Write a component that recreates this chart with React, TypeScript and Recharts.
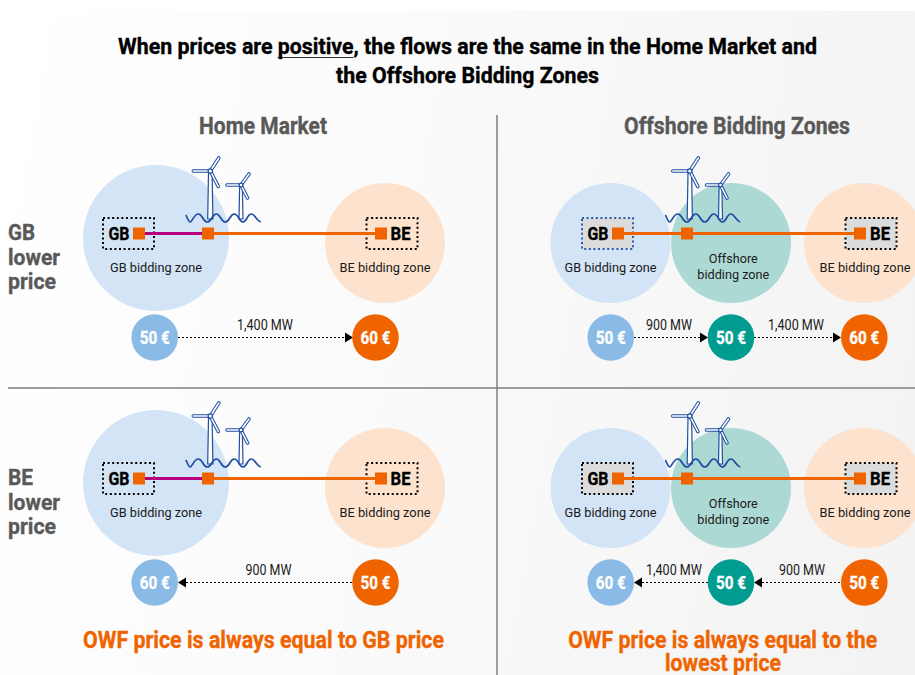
import { ScatterChart, Scatter, XAxis, YAxis, ReferenceLine } from 'recharts';

const rowNames = [['GB', 'lower', 'price'], ['BE', 'lower', 'price']];
const panelTitles = ['Home Market', 'Offshore Bidding Zones'];
const homePrices = [[50, 60], [60, 50]];
const offshorePrices = [[50, 50, 60], [60, 50, 50]];
const homeFlows = [1400, 900];
const offshoreFlows = [[900, 1400], [1400, 900]];
const homeZones = ['GB bidding zone', 'BE bidding zone'];
const offshoreZones = ['GB bidding zone', 'BE bidding zone'];
const offshoreZoneLines = ['Offshore', 'bidding zone'];
const titleLines = ['When prices are positive, the flows are the same in the Home Market and', 'the Offshore Bidding Zones'];
const homeNote = 'OWF price is always equal to GB price';
const offshoreNote = ['OWF price is always equal to the', 'lowest price'];

const ROW_DY = [0, 245];
const FONT = 'Roboto, sans-serif';
const ORANGE = '#f06400';
const MAGENTA = '#b8007f';
const NAVY = '#1f4ea1';
const BLUE_ZONE = '#d3e4f6';
const PEACH_ZONE = '#fde3ce';
const TEAL_ZONE = '#add9d5';
const BLUE_PRICE = '#8abbe6';
const TEAL_PRICE = '#009c90';
const GREY_TEXT = '#595959';

type Mark = Record<string, any>;

const txt = (x: number, y: number, text: string, size: number, width: number, weight = 400, fill = '#1a1a1a', anchor = 'middle'): Mark => ({ x, y, text, size, width, weight, fill, anchor });

function Dot(p: any) {
  return <circle cx={p.cx} cy={p.cy} r={p.payload.r} fill={p.payload.fill} />;
}

function Label(p: any) {
  const d = p.payload;
  return (
    <text x={p.cx} y={p.cy} fontFamily={FONT} fontSize={d.size} fontWeight={d.weight} fill={d.fill} textAnchor={d.anchor}
      stroke={d.weight === 700 ? d.fill : 'none'} strokeWidth={0.35}
      dominantBaseline="central" textLength={d.width} lengthAdjust="spacingAndGlyphs">
      {d.text}
    </text>
  );
}

function Box(p: any) {
  const d = p.payload;
  return (
    <rect x={p.cx - 25.5} y={p.cy - 15.5} width={51} height={31} fill={d.fill} stroke={d.stroke}
      strokeWidth={2} strokeDasharray="2 2.6" />
  );
}

function Square(p: any) {
  return <rect x={p.cx - 6} y={p.cy - 6} width={12} height={12} fill={ORANGE} />;
}

function Arrow(p: any) {
  const dir = p.payload.dir;
  return <path d={`M${p.cx} ${p.cy - 5}L${p.cx + dir * 8} ${p.cy}L${p.cx} ${p.cy + 5}Z`} fill="#000" />;
}

function Price(p: any) {
  const d = p.payload;
  return (
    <g>
      <circle cx={p.cx} cy={p.cy} r={23.3} fill={d.fill} />
      <text x={p.cx} y={p.cy} fontFamily={FONT} fontSize={18} fontWeight={700} fill="#fff" textAnchor="middle"
        stroke="#fff" strokeWidth={0.3}
        dominantBaseline="central" textLength={30} lengthAdjust="spacingAndGlyphs">
        {`${d.value} €`}
      </text>
    </g>
  );
}

function Blade({ x, y, tx, ty }: { x: number; y: number; tx: number; ty: number }) {
  return (
    <g strokeLinecap="round" fill="none">
      <line x1={x} y1={y} x2={tx} y2={ty} stroke={NAVY} strokeWidth={3.6} />
      <line x1={x} y1={y} x2={tx} y2={ty} stroke="#fff" strokeWidth={1.6} />
    </g>
  );
}

// hub is at cx/cy of the big turbine, the second one and the waves hang off it
function Turbines(p: any) {
  const x = p.cx;
  const y = p.cy;
  const x2 = x + 30.7;
  const y2 = y + 14;
  return (
    <g>
      <path d={`M${x - 1.8} ${y + 2}L${x - 2.6} ${y + 48}L${x + 2.6} ${y + 48}L${x + 1.8} ${y + 2}Z`} fill="#fff" stroke={NAVY} strokeWidth={1.2} />
      <path d={`M${x2 - 1.4} ${y2 + 2}L${x2 - 2} ${y2 + 34}L${x2 + 2} ${y2 + 34}L${x2 + 1.4} ${y2 + 2}Z`} fill="#fff" stroke={NAVY} strokeWidth={1.2} />
      <Blade x={x} y={y} tx={x + 8.5} ty={y - 13} />
      <Blade x={x} y={y} tx={x - 17} ty={y} />
      <Blade x={x} y={y} tx={x + 8} ty={y + 15.5} />
      <Blade x={x2} y={y2} tx={x2 + 8} ty={y2 - 11} />
      <Blade x={x2} y={y2} tx={x2 - 14} ty={y2} />
      <Blade x={x2} y={y2} tx={x2 + 6.5} ty={y2 + 13} />
      <circle cx={x} cy={y} r={2.2} fill="#fff" stroke={NAVY} strokeWidth={1.2} />
      <circle cx={x2} cy={y2} r={1.9} fill="#fff" stroke={NAVY} strokeWidth={1.2} />
      <path
        d={`M${x - 24.5} ${y + 44}c1.500 2 2.500 7 4.500 7s3.500-8 8-8s4.500 8 9 8s4.500-8 9-8s4.500 8 9 8s4.500-8 9-8s4.500 8 8.500 8s4.500-8 8.500-8s5 7 9.500 8`}
        fill="none" stroke={NAVY} strokeWidth={1.7} />
    </g>
  );
}

const noPoint = () => <g />;

const zones: Mark[] = [];
const turbines: Mark[] = [];
const boxes: Mark[] = [];
const squares: Mark[] = [];
const arrows: Mark[] = [];
const prices: Mark[] = [];
const labels: Mark[] = [];
const segments: { from: number; to: number; y: number; color: string; width: number; dash?: string }[] = [];

ROW_DY.forEach((dy, row) => {
  // home market panel
  zones.push({ x: 156, y: 238 + dy, r: 73, fill: BLUE_ZONE }, { x: 385, y: 243 + dy, r: 60, fill: PEACH_ZONE });
  turbines.push({ x: 210.3, y: 171 + dy });
  boxes.push({ x: 128.5, y: 233.5 + dy, fill: 'none', stroke: '#000' }, { x: 392, y: 233.5 + dy, fill: 'none', stroke: '#000' });
  squares.push({ x: 139, y: 233.5 + dy }, { x: 208, y: 233.5 + dy }, { x: 381, y: 233.5 + dy });
  segments.push({ from: 145, to: 202, y: 233.5 + dy, color: MAGENTA, width: 3 }, { from: 214, to: 375, y: 233.5 + dy, color: ORANGE, width: 3 });
  labels.push(
    txt(119, 234 + dy, 'GB', 18.5, 21, 700, '#000'),
    txt(400.5, 234 + dy, 'BE', 18.5, 20, 700, '#000'),
    txt(156, 267 + dy, homeZones[0], 13.5, 92),
    txt(385, 267 + dy, homeZones[1], 13.5, 91),
  );
  prices.push({ x: 154.7, y: 337.5 + dy, value: homePrices[row][0], fill: BLUE_PRICE }, { x: 375.5, y: 337.5 + dy, value: homePrices[row][1], fill: ORANGE });
  const homeFlowWide = homeFlows[row] >= 1000;
  segments.push({ from: row === 0 ? 178 : 186, to: row === 0 ? 345 : 352, y: 337.5 + dy, color: '#000', width: 1.1, dash: '2 2' });
  arrows.push(row === 0 ? { x: 345, y: 337.5 + dy, dir: 1 } : { x: 186, y: 337.5 + dy, dir: -1 });
  labels.push(txt(row === 0 ? 265 : 268.5, 325 + dy, `${homeFlows[row].toLocaleString('en-US')} MW`, 14, homeFlowWide ? 56 : 46));

  // offshore panel
  zones.push({ x: 610.5, y: 243 + dy, r: 60, fill: BLUE_ZONE }, { x: 731, y: 243 + dy, r: 60, fill: TEAL_ZONE }, { x: 864, y: 243 + dy, r: 60, fill: PEACH_ZONE });
  turbines.push({ x: 689.8, y: 171 + dy });
  boxes.push({ x: 607.5, y: 233.5 + dy, fill: '#dcdcdc', stroke: row === 0 ? '#2a5cb0' : '#000' }, { x: 871, y: 233.5 + dy, fill: '#dcdcdc', stroke: '#000' });
  squares.push({ x: 618, y: 233.5 + dy }, { x: 687, y: 233.5 + dy }, { x: 860, y: 233.5 + dy });
  segments.push({ from: 624, to: 681, y: 233.5 + dy, color: ORANGE, width: 3 }, { from: 693, to: 854, y: 233.5 + dy, color: ORANGE, width: 3 });
  labels.push(
    txt(598, 234 + dy, 'GB', 18.5, 21, 700, '#000'),
    txt(880, 234 + dy, 'BE', 18.5, 20, 700, '#000'),
    txt(610.5, 267 + dy, offshoreZones[0], 13.5, 92),
    txt(865, 267 + dy, offshoreZones[1], 13.5, 91),
    txt(733.3, 257.5 + dy, offshoreZoneLines[0], 13.5, 49),
    txt(733.3, 274 + dy, offshoreZoneLines[1], 13.5, 72),
  );
  const py = 337.5 + dy;
  [610.7, 731, 864.3].forEach((x, i) => {
    prices.push({ x, y: py, value: offshorePrices[row][i], fill: [BLUE_PRICE, TEAL_PRICE, ORANGE][i] });
  });
  if (row === 0) {
    segments.push({ from: 634, to: 700, y: py, color: '#000', width: 1.1, dash: '2 2' }, { from: 754, to: 833, y: py, color: '#000', width: 1.1, dash: '2 2' });
    arrows.push({ x: 700, y: py, dir: 1 }, { x: 833, y: py, dir: 1 });
  } else {
    segments.push({ from: 642, to: 708, y: py, color: '#000', width: 1.1, dash: '2 2' }, { from: 762, to: 841, y: py, color: '#000', width: 1.1, dash: '2 2' });
    arrows.push({ x: 642, y: py, dir: -1 }, { x: 762, y: py, dir: -1 });
  }
  const flowX = row === 0 ? [669, 796] : [674, 802];
  offshoreFlows[row].forEach((mw, i) => {
    labels.push(txt(flowX[i], 325 + dy, `${mw.toLocaleString('en-US')} MW`, 14, mw >= 1000 ? 56 : 46));
  });

  // row heading
  const headY = [232, 257, 281];
  const headW = [row === 0 ? 27 : 25, 52, 48];
  rowNames[row].forEach((word, i) => {
    labels.push(txt(8, headY[i] + dy, word, 22.5, headW[i], 700, GREY_TEXT, 'start'));
  });
});

labels.push(
  txt(467.5, 46, titleLines[0], 22.5, 699, 700, '#000'),
  txt(467.5, 75, titleLines[1], 22.5, 263, 700, '#000'),
  txt(263, 126, panelTitles[0], 23, 128, 700, GREY_TEXT),
  txt(737, 126, panelTitles[1], 23, 226, 700, GREY_TEXT),
  txt(263.5, 640, homeNote, 23, 361, 700, ORANGE),
  txt(722.7, 640, offshoreNote[0], 23, 309, 700, ORANGE),
  txt(723, 663, offshoreNote[1], 23, 116, 700, ORANGE),
);

// underline of the word "positive" in the title
segments.push({ from: 277.5, to: 353.5, y: 57.5, color: '#333', width: 1.2 });

export default function App() {
  return (
    <div style={{ position: 'fixed', left: 0, top: 0, width: 915, height: 675, background: '#fff', overflow: 'hidden' }}>
      <div style={{ position: 'absolute', left: 0, top: 11, width: 915, height: 664, background: 'linear-gradient(100deg, #ffffff 0%, #fafafa 45%, #f3f3f3 100%)' }} />
      <div style={{ position: 'absolute', left: 0, top: 0 }}>
        <ScatterChart width={915} height={675} margin={{ top: 0, right: 0, bottom: 0, left: 0 }}>
          <XAxis type="number" dataKey="x" domain={[0, 915]} hide />
          <YAxis type="number" dataKey="y" domain={[0, 675]} reversed hide />
          <ReferenceLine segment={[{ x: 497, y: 115 }, { x: 497, y: 675 }]} stroke="#7f7f7f" strokeWidth={1.5} />
          <ReferenceLine segment={[{ x: 8, y: 388 }, { x: 915, y: 388 }]} stroke="#7f7f7f" strokeWidth={1.5} />
          <Scatter data={zones} shape={Dot} isAnimationActive={false} />
          <Scatter data={turbines} shape={Turbines} isAnimationActive={false} />
          <Scatter data={boxes} shape={Box} isAnimationActive={false} />
          {segments.map((s, i) => (
            <Scatter key={i} data={[{ x: s.from, y: s.y }, { x: s.to, y: s.y }]} shape={noPoint} isAnimationActive={false}
              line={{ stroke: s.color, strokeWidth: s.width, strokeDasharray: s.dash }} />
          ))}
          <Scatter data={squares} shape={Square} isAnimationActive={false} />
          <Scatter data={arrows} shape={Arrow} isAnimationActive={false} />
          <Scatter data={prices} shape={Price} isAnimationActive={false} />
          <Scatter data={labels} shape={Label} isAnimationActive={false} />
        </ScatterChart>
      </div>
    </div>
  );
}
